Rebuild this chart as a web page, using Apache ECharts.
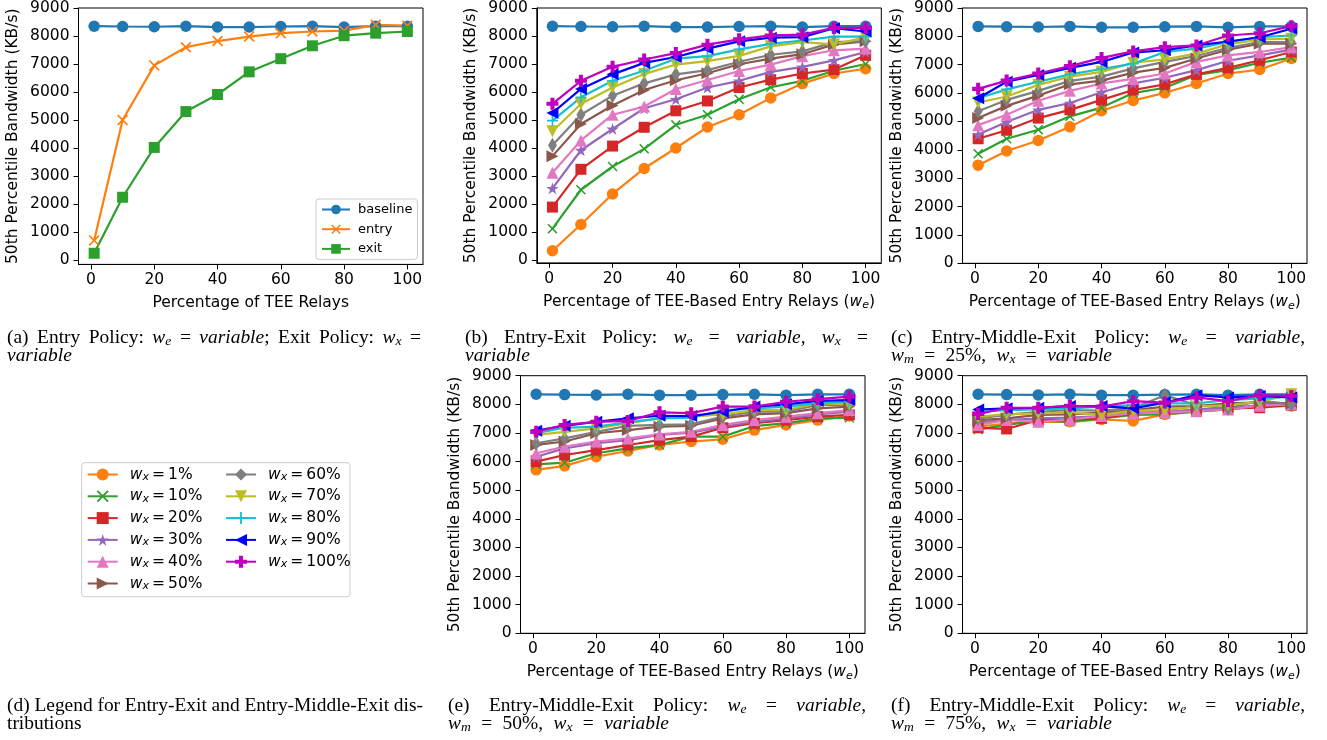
<!DOCTYPE html>
<html><head><meta charset="utf-8">
<script src="https://cdn.jsdelivr.net/npm/echarts@6/dist/echarts.min.js"></script>
<style>html,body{margin:0;padding:0;background:#fff}#c{width:1327px;height:740px}</style>
</head><body><div id="c"></div>
<script>
// ---------------- DATA ----------------
const X = [1, 10, 20, 30, 40, 50, 60, 70, 80, 90, 100];
const xTicks = [0, 20, 40, 60, 80, 100];
const yTicks = [0, 1000, 2000, 3000, 4000, 5000, 6000, 7000, 8000, 9000];

// panel (a)
const baseline = [8350, 8340, 8330, 8350, 8320, 8320, 8340, 8350, 8320, 8350, 8350];
const entryA   = [700, 5000, 6950, 7600, 7820, 7980, 8100, 8160, 8190, 8400, 8370];
const exitA    = [240, 2240, 4020, 5300, 5910, 6720, 7190, 7650, 8010, 8100, 8160];

const wxNames = ['1%', '10%', '20%', '30%', '40%', '50%', '60%', '70%', '80%', '90%', '100%'];

// panel (b) Entry-Exit, rows follow wxNames
const panelB = [
  [330, 1270, 2360, 3270, 4000, 4750, 5190, 5790, 6300, 6660, 6830],
  [1120, 2510, 3340, 3970, 4830, 5190, 5740, 6170, 6400, 6760, 7000],
  [1890, 3240, 4070, 4740, 5330, 5680, 6160, 6440, 6660, 6800, 7310],
  [2560, 3920, 4680, 5420, 5740, 6160, 6400, 6720, 6900, 7130, 7430],
  [3120, 4270, 5190, 5480, 6110, 6430, 6750, 6980, 7280, 7490, 7550],
  [3710, 4860, 5520, 6070, 6420, 6670, 6990, 7190, 7350, 7700, 7810],
  [4100, 5190, 5870, 6310, 6630, 6780, 7080, 7330, 7450, 7780, 7820],
  [4600, 5570, 6160, 6640, 6980, 7100, 7290, 7630, 7780, 7700, 7950],
  [4980, 5810, 6400, 6760, 7190, 7280, 7520, 7720, 7840, 7980, 7980],
  [5250, 6110, 6630, 7040, 7250, 7550, 7810, 7940, 7960, 8280, 8160],
  [5580, 6400, 6900, 7160, 7390, 7690, 7880, 8020, 8050, 8290, 8290]
];
// panel (c) Entry-Middle-Exit, wm = 25%
const panelC = [
  [3460, 3960, 4330, 4810, 5380, 5740, 6010, 6340, 6690, 6830, 7220],
  [3860, 4390, 4710, 5180, 5490, 6000, 6190, 6640, 6810, 7070, 7250],
  [4390, 4690, 5120, 5410, 5760, 6110, 6310, 6660, 6890, 7160, 7450],
  [4540, 4980, 5410, 5650, 6030, 6340, 6540, 6810, 7140, 7330, 7530],
  [4870, 5240, 5730, 6080, 6340, 6500, 6690, 7100, 7330, 7450, 7620],
  [5120, 5550, 5910, 6310, 6440, 6720, 6890, 7220, 7530, 7740, 7740],
  [5360, 5760, 6080, 6430, 6580, 6870, 7100, 7310, 7600, 7800, 7800],
  [5670, 5880, 6290, 6580, 6750, 7070, 7190, 7390, 7720, 7890, 7920],
  [5820, 6130, 6400, 6660, 6850, 7040, 7450, 7570, 7800, 7970, 8030],
  [5820, 6400, 6640, 6890, 7100, 7430, 7510, 7680, 7820, 7970, 8270],
  [6150, 6440, 6690, 6950, 7240, 7470, 7620, 7680, 8030, 8110, 8360]
];
// panel (e) wm = 50%
const panelE = [
  [5710, 5850, 6170, 6370, 6580, 6700, 6780, 7100, 7280, 7450, 7590],
  [5900, 5960, 6290, 6460, 6580, 6870, 6870, 7240, 7340, 7510, 7530],
  [6000, 6230, 6400, 6580, 6750, 6870, 7180, 7340, 7450, 7570, 7630],
  [6170, 6460, 6640, 6750, 6930, 7010, 7220, 7390, 7510, 7650, 7740],
  [6290, 6520, 6700, 6810, 6950, 7040, 7280, 7450, 7570, 7690, 7800],
  [6580, 6700, 6990, 7100, 7220, 7250, 7510, 7650, 7690, 7860, 7920],
  [6640, 6810, 7040, 7250, 7280, 7300, 7570, 7740, 7740, 7980, 7980],
  [6930, 7040, 7160, 7340, 7510, 7570, 7650, 7800, 7800, 8040, 8000],
  [6990, 7180, 7220, 7370, 7510, 7530, 7800, 7860, 7920, 8040, 8090],
  [7080, 7250, 7390, 7510, 7600, 7590, 7740, 7920, 8000, 8120, 8150],
  [7040, 7280, 7390, 7420, 7720, 7690, 7920, 7920, 8090, 8180, 8270]
];
// panel (f) wm = 75%
const panelF = [
  [7220, 7330, 7390, 7390, 7470, 7420, 7650, 7760, 7820, 7940, 7940],
  [7120, 7280, 7430, 7390, 7510, 7630, 7650, 7740, 7820, 7940, 8000],
  [7180, 7140, 7450, 7470, 7510, 7680, 7740, 7800, 7860, 7880, 7970],
  [7370, 7450, 7510, 7540, 7590, 7710, 7740, 7820, 7860, 7970, 8030],
  [7280, 7450, 7390, 7470, 7590, 7680, 7710, 7760, 7820, 7950, 8000],
  [7450, 7510, 7630, 7650, 7710, 7800, 7920, 7940, 8030, 8070, 8030],
  [7510, 7630, 7740, 7800, 7780, 7860, 8320, 7970, 7860, 8130, 8000],
  [7570, 7660, 7680, 7710, 7630, 7780, 7800, 7920, 7970, 8090, 8350],
  [7740, 7800, 7820, 7860, 7920, 7970, 8030, 8030, 8150, 8210, 8270],
  [7820, 7860, 7880, 7940, 7940, 7860, 8060, 8320, 8240, 8290, 8240],
  [7660, 7880, 7880, 7950, 7920, 8110, 8060, 8240, 8110, 8320, 8290]
];

// ---------------- STYLE ----------------
const SYM = {
  x: 'path://M1.1,0L5,3.9L8.9,0L10,1.1L6.1,5L10,8.9L8.9,10L5,6.1L1.1,10L0,8.9L3.9,5L0,1.1Z',
  star: 'path://M5,0L6.123,3.455L9.755,3.455L6.816,5.59L7.939,9.045L5,6.91L2.061,9.045L3.184,5.59L0.245,3.455L3.877,3.455Z',
  triR: 'path://M0,0L10,5L0,10Z',
  triL: 'path://M10,0L0,5L10,10Z',
  triD: 'path://M0,0L10,0L5,10Z',
  dia: 'path://M3,0L6,5L3,10L0,5Z',
  plus: 'path://M4.25,0L5.75,0L5.75,4.25L10,4.25L10,5.75L5.75,5.75L5.75,10L4.25,10L4.25,5.75L0,5.75L0,4.25L4.25,4.25Z',
  plusF: 'path://M3.3,0L6.7,0L6.7,3.3L10,3.3L10,6.7L6.7,6.7L6.7,10L3.3,10L3.3,6.7L0,6.7L0,3.3L3.3,3.3Z'
};
const WX_STYLE = [
  {c: '#ff7f0e', s: 'circle', z: 11.5},
  {c: '#2ca02c', s: SYM.x, z: 10},
  {c: '#d62728', s: 'rect', z: 11},
  {c: '#9467bd', s: SYM.star, z: 12.5},
  {c: '#e377c2', s: 'triangle', z: 12},
  {c: '#8c564b', s: SYM.triR, z: 12},
  {c: '#7f7f7f', s: SYM.dia, z: [9, 15]},
  {c: '#bcbd22', s: SYM.triD, z: 12},
  {c: '#17becf', s: SYM.plus, z: 11},
  {c: '#0000ff', s: SYM.triL, z: 12},
  {c: '#bf00bf', s: SYM.plusF, z: 12}
];
const BASE_STYLE = {c: '#1f77b4', s: 'circle', z: 11.5};

const FONT = 'DejaVu Sans';
const FS = 15.5;
const W = 344.5;
const GRIDS = [
  {left: 78.5, top: 7.5, height: 256.9, ymin: -158, xname: 'Percentage of TEE Relays'},
  {left: 536.8, top: 5.7, height: 257.2, ymin: -102, xname: null},
  {left: 962.5, top: 5.7, height: 257.6, ymin: 0, xname: null},
  {left: 520.5, top: 375.7, height: 257.6, ymin: 0, xname: null},
  {left: 962.5, top: 375.7, height: 257.6, ymin: 0, xname: null}
];
const richSub = {
  it: {fontStyle: 'italic', fontFamily: FONT, fontSize: FS, color: '#000', lineHeight: 18},
  sb: {fontStyle: 'italic', fontFamily: FONT, fontSize: 11, color: '#000', verticalAlign: 'bottom', lineHeight: 11}
};

const grid = [], xAxis = [], yAxis = [];
GRIDS.forEach((g, i) => {
  grid.push({left: g.left, top: g.top, width: W, height: g.height, show: true, borderColor: '#000', borderWidth: 1, backgroundColor: 'transparent', containLabel: false});
  xAxis.push({
    type: 'value', gridIndex: i, min: -3.95, max: 104.95,
    axisLine: {show: true, onZero: false, lineStyle: {color: '#000', width: 1}},
    axisTick: {show: true, customValues: xTicks, length: 5, lineStyle: {color: '#000', width: 1}},
    axisLabel: {customValues: xTicks, color: '#000', fontSize: FS, fontFamily: FONT, margin: 8, formatter: v => String(v)},
    splitLine: {show: false},
    name: g.xname || 'Percentage of TEE-Based Entry Relays ({it|w}{sb|e})',
    nameLocation: 'middle', nameGap: 30,
    nameTextStyle: {color: '#000', fontSize: FS, fontFamily: FONT, lineHeight: 18, rich: richSub}
  });
  yAxis.push({
    type: 'value', gridIndex: i, min: g.ymin, max: 9000,
    axisLine: {show: true, onZero: false, lineStyle: {color: '#000', width: 1}},
    axisTick: {show: true, customValues: yTicks, length: 5, lineStyle: {color: '#000', width: 1}},
    axisLabel: {customValues: yTicks, color: '#000', fontSize: FS, fontFamily: FONT, margin: 9, formatter: v => String(v)},
    splitLine: {show: false},
    name: '50th Percentile Bandwidth (KB/s)', nameLocation: 'middle', nameGap: 58,
    nameTextStyle: {color: '#000', fontSize: FS, fontFamily: FONT}
  });
});

function mk(p, name, arr, st) {
  return {
    type: 'line', name: name, xAxisIndex: p, yAxisIndex: p,
    data: X.map((x, i) => [x, arr[i]]),
    symbol: st.s, symbolSize: st.z, symbolKeepAspect: st.s === SYM.star,
    itemStyle: {color: st.c, opacity: 1},
    lineStyle: {color: st.c, width: 2.2},
    animation: false, silent: true, emphasis: {disabled: true}, z: 2
  };
}
const series = [];
series.push(mk(0, 'baseline', baseline, BASE_STYLE));
series.push(mk(0, 'entry', entryA, {c: '#ff7f0e', s: SYM.x, z: 11}));
series.push(mk(0, 'exit', exitA, {c: '#2ca02c', s: 'rect', z: 11}));
[panelB, panelC, panelE, panelF].forEach((rows, k) => {
  const p = k + 1;
  series.push(mk(p, 'baseline', baseline, BASE_STYLE));
  rows.forEach((r, j) => series.push(mk(p, 'wx ' + wxNames[j], r, WX_STYLE[j])));
});

const legRich = {
  it: {fontStyle: 'italic', fontFamily: FONT, fontSize: FS, color: '#000', lineHeight: 16},
  sb: {fontStyle: 'italic', fontFamily: FONT, fontSize: 11, color: '#000', verticalAlign: 'bottom', lineHeight: 11},
  t: {fontFamily: FONT, fontSize: FS, color: '#000', lineHeight: 16}
};
const legFmt = n => '{it|w}{sb|x}{t|\u2009=\u2009' + n.replace('wx ', '') + '}';
const legendD = (names, left) => ({
  data: names.map(n => 'wx ' + n), orient: 'vertical', left: left, top: 466.5,
  itemWidth: 30, itemHeight: 15, itemGap: 5.8, padding: 0, selectedMode: false,
  formatter: legFmt, textStyle: {fontSize: FS, fontFamily: FONT, color: '#000', rich: legRich, padding: [0, 0, 0, 7]}
});

// ---------------- CAPTIONS ----------------
const CAP = 18, SX = 1.08;
const cv = document.createElement('canvas').getContext('2d');
const R = t => ({t, k: 'r'}), I = t => ({t, k: 'i'}), S = t => ({t, k: 's'});
function pf(k) {
  if (k === 'r') return CAP + 'px "Liberation Serif"';
  if (k === 'i') return 'italic ' + CAP + 'px "Liberation Serif"';
  return 'italic ' + (CAP * 0.7).toFixed(1) + 'px "Liberation Serif"';
}
function mw(p) { cv.font = pf(p.k); return cv.measureText(p.t).width * SX; }
const capLines = [
  {x0: 7, x1: 421, y: 338, toks: [[R('(a)')], [R('Entry')], [R('Policy:')], [I('w'), S('e')], [R('=')], [I('variable'), R(';')], [R('Exit')], [R('Policy:')], [I('w'), S('x')], [R('=')]]},
  {x0: 7, y: 356, toks: [[I('variable')]]},
  {x0: 465, x1: 868, y: 338, toks: [[R('(b)')], [R('Entry-Exit')], [R('Policy:')], [I('w'), S('e')], [R('=')], [I('variable'), R(',')], [I('w'), S('x')], [R('=')]]},
  {x0: 465, y: 356, toks: [[I('variable')]]},
  {x0: 891, x1: 1305, y: 338, toks: [[R('(c)')], [R('Entry-Middle-Exit')], [R('Policy:')], [I('w'), S('e')], [R('=')], [I('variable'), R(',')]]},
  {x0: 891, x1: 1112, y: 356, toks: [[I('w'), S('m')], [R('=')], [R('25%,')], [I('w'), S('x')], [R('=')], [I('variable')]]},
  {x0: 7, x1: 423, y: 706, toks: [[R('(d)')], [R('Legend')], [R('for')], [R('Entry-Exit')], [R('and')], [R('Entry-Middle-Exit')], [R('dis-')]]},
  {x0: 7, y: 724, toks: [[R('tributions')]]},
  {x0: 448, x1: 866, y: 706, toks: [[R('(e)')], [R('Entry-Middle-Exit')], [R('Policy:')], [I('w'), S('e')], [R('=')], [I('variable'), R(',')]]},
  {x0: 448, x1: 669, y: 724, toks: [[I('w'), S('m')], [R('=')], [R('50%,')], [I('w'), S('x')], [R('=')], [I('variable')]]},
  {x0: 891, x1: 1305, y: 706, toks: [[R('(f)')], [R('Entry-Middle-Exit')], [R('Policy:')], [I('w'), S('e')], [R('=')], [I('variable'), R(',')]]},
  {x0: 891, x1: 1112, y: 724, toks: [[I('w'), S('m')], [R('=')], [R('75%,')], [I('w'), S('x')], [R('=')], [I('variable')]]}
];
const graphics = [];
capLines.forEach(L => {
  const widths = L.toks.map(tk => tk.reduce((s, p) => s + mw(p), 0));
  const tot = widths.reduce((a, b) => a + b, 0);
  const gap = L.x1 ? (L.x1 - L.x0 - tot) / (L.toks.length - 1) : mw(R(' '));
  let x = L.x0;
  L.toks.forEach((tk, i) => {
    let px = x;
    tk.forEach(p => {
      graphics.push({type: 'text', x: px, y: L.y + (p.k === 's' ? CAP * 0.22 : 0), scaleX: SX, silent: true,
        style: {text: p.t, font: pf(p.k), fill: '#000', align: 'left', verticalAlign: 'middle'}});
      px += mw(p);
    });
    x += widths[i] + gap;
  });
});
// legend (d) frame
graphics.push({type: 'rect', z: -1, silent: true, shape: {x: 81.7, y: 462.7, width: 268.3, height: 134, r: 3},
  style: {fill: 'rgba(255,255,255,0.8)', stroke: '#cccccc', lineWidth: 1}});

const option = {
  animation: false,
  backgroundColor: '#fff',
  grid, xAxis, yAxis, series,
  legend: [
    {data: ['baseline', 'entry', 'exit'], orient: 'vertical', left: 316, top: 199, itemWidth: 28, itemHeight: 12,
      itemGap: 6.7, padding: [4, 5, 4, 5], borderColor: '#cccccc', borderWidth: 1, borderRadius: 3,
      backgroundColor: 'rgba(255,255,255,0.8)', selectedMode: false,
      textStyle: {fontSize: 13, fontFamily: FONT, color: '#000', padding: [0, 0, 0, 3]}},
    legendD(wxNames.slice(0, 6), 86.7),
    legendD(wxNames.slice(6), 225)
  ],
  graphic: graphics
};
const chart = echarts.init(document.getElementById('c'), null, {renderer: 'canvas'});
chart.setOption(option);
</script>
</body></html>
